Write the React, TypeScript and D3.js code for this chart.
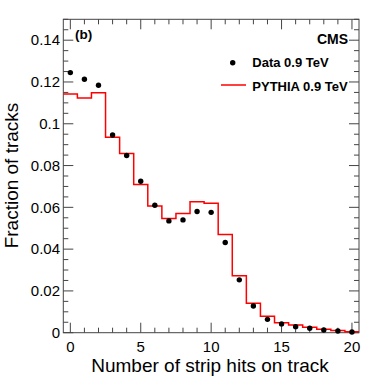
import React from 'react'
import * as d3 from 'd3'

// bins: number of strip hits on track
const hits = d3.range(0, 21)
const dataValues = [0.1245, 0.1213, 0.1184, 0.0946, 0.0848, 0.0725, 0.061, 0.0535, 0.054, 0.058, 0.0576,
  0.0432, 0.0253, 0.0128, 0.0064, 0.0042, 0.0029, 0.0021, 0.0013, 0.0008, 0.0003]
const pythiaValues = [0.1143, 0.1123, 0.1149, 0.0936, 0.0858, 0.0709, 0.0607, 0.0547, 0.057, 0.0627, 0.0619,
  0.047, 0.0272, 0.0141, 0.0079, 0.0048, 0.0037, 0.0026, 0.0016, 0.001, 0.0004]
const xMajorTicks = [0, 5, 10, 15, 20]
const yMajorTicks = [0, 0.02, 0.04, 0.06, 0.08, 0.1, 0.12, 0.14]
const yTickLabels = ['0', '0.02', '0.04', '0.06', '0.08', '0.1', '0.12', '0.14']

const font = '"Liberation Sans", Arial, Helvetica, sans-serif'

export default function App() {
  const width = 374
  const height = 392
  const left = 63.3, right = 359, top = 19.3, bottom = 332.7

  const x = d3.scaleLinear().domain([-0.5, 20.5]).range([left, right])
  const y = d3.scaleLinear().domain([0, 0.15]).range([bottom, top])

  const xMinor = d3.range(0, 21)
  const yMinor = d3.range(0, 31).map(i => i * 0.005)

  const steps = hits.map((h, i) => ({ x0: h - 0.5, x1: h + 0.5, v: pythiaValues[i] }))
  const stepPts: [number, number][] = []
  steps.forEach(s => {
    stepPts.push([x(s.x0), y(s.v)])
    stepPts.push([x(s.x1), y(s.v)])
  })
  const histPath = d3.line()(stepPts) || ''

  const axisColor = '#444'
  const ticks: React.ReactNode[] = []
  xMinor.forEach(v => {
    const len = v % 5 === 0 ? 10 : 5
    ticks.push(<line key={`xb${v}`} x1={x(v)} x2={x(v)} y1={bottom} y2={bottom - len} stroke={axisColor} />)
    ticks.push(<line key={`xt${v}`} x1={x(v)} x2={x(v)} y1={top} y2={top + len} stroke={axisColor} />)
  })
  yMinor.forEach((v, i) => {
    const len = i % 4 === 0 ? 10 : 5
    ticks.push(<line key={`yl${i}`} x1={left} x2={left + len} y1={y(v)} y2={y(v)} stroke={axisColor} />)
    ticks.push(<line key={`yr${i}`} x1={right} x2={right - len} y1={y(v)} y2={y(v)} stroke={axisColor} />)
  })

  return (
    <svg width={width} height={height} style={{ position: 'absolute', left: 0, top: 0 }} fontFamily={font}>
      <rect x={0} y={0} width={width} height={height} fill="#fff" />
      {ticks}
      <rect x={left} y={top} width={right - left} height={bottom - top} fill="none" stroke={axisColor} />
      <path d={histPath} fill="none" stroke="#ff0000" strokeWidth={1.5} />
      {hits.map((h, i) => (
        <circle key={`pt${h}`} cx={x(h)} cy={y(dataValues[i])} r={2.7} fill="#000" />
      ))}
      {xMajorTicks.map(v => (
        <text key={`xl${v}`} x={x(v)} y={351.5} fontSize={15} textAnchor="middle" fill="#000">{v}</text>
      ))}
      {yMajorTicks.map((v, i) => (
        <text key={`yl${v}`} x={60} y={y(v) + 5.3} fontSize={15} textAnchor="end" fill="#000">{yTickLabels[i]}</text>
      ))}
      <text x={210} y={371.7} fontSize={19} textAnchor="middle">Number of strip hits on track</text>
      <text transform="translate(18,175.5) rotate(-90)" fontSize={19} textAnchor="middle">Fraction of tracks</text>
      <text x={75} y={38.5} fontSize={13.5} fontWeight="bold">(b)</text>
      <text x={348} y={44.3} fontSize={14} fontWeight="bold" textAnchor="end">CMS</text>
      <circle cx={232.7} cy={62.7} r={2.7} fill="#000" />
      <text x={252.3} y={67.3} fontSize={13} fontWeight="bold">Data 0.9 TeV</text>
      <line x1={221} x2={246} y1={85} y2={85} stroke="#ff0000" strokeWidth={1.5} />
      <text x={252.3} y={91} fontSize={13} fontWeight="bold">PYTHIA 0.9 TeV</text>
    </svg>
  )
}
